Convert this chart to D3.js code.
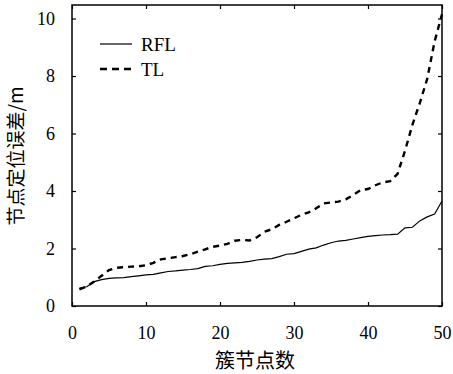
<!DOCTYPE html>
<html>
<head>
<meta charset="utf-8">
<script src="https://cdn.jsdelivr.net/npm/d3@7"></script>
<style>
  body { margin: 0; background: #fff; }
</style>
</head>
<body>
<svg width="453" height="374"></svg>
<script>
const nodes = d3.range(1, 51);
const rfl = [0.62, 0.67, 0.85, 0.92, 0.96, 0.98, 0.99, 1.02, 1.05, 1.08,
             1.1, 1.15, 1.2, 1.22, 1.25, 1.27, 1.3, 1.38, 1.4, 1.45,
             1.48, 1.5, 1.52, 1.55, 1.6, 1.63, 1.65, 1.72, 1.8, 1.82,
             1.9, 1.98, 2.02, 2.12, 2.2, 2.26, 2.28, 2.33, 2.38, 2.42,
             2.45, 2.47, 2.48, 2.5, 2.72, 2.74, 2.96, 3.1, 3.2, 3.65];
const tl = [0.58, 0.68, 0.85, 1.05, 1.25, 1.33, 1.35, 1.37, 1.38, 1.42,
            1.5, 1.62, 1.66, 1.7, 1.74, 1.8, 1.89, 1.97, 2.06, 2.1,
            2.16, 2.27, 2.3, 2.28, 2.39, 2.58, 2.67, 2.82, 2.93, 3.05,
            3.17, 3.26, 3.4, 3.57, 3.6, 3.63, 3.71, 3.86, 4.03, 4.07,
            4.2, 4.3, 4.34, 4.6, 5.4, 6.3, 7.06, 7.9, 9.2, 10.15];
const xTicks = [0, 10, 20, 30, 40, 50];
const yTicks = [0, 2, 4, 6, 8, 10];

const serif = "'Liberation Serif', 'Times New Roman', serif";
const cjk = "'Noto Sans CJK SC', sans-serif";

const margin = {top: 5, right: 11, bottom: 68, left: 72};
const width = 453 - margin.left - margin.right;
const height = 374 - margin.top - margin.bottom;

const svg = d3.select("svg");
const g = svg.append("g")
    .attr("transform", `translate(${margin.left}, ${margin.top})`);

const x = d3.scaleLinear().domain([0, 50]).range([0, width]);
const y = d3.scaleLinear().domain([0, 10.47]).range([height, 0]);

// axes, ticks pointing inward
const xAxisG = g.append("g")
  .attr("transform", `translate(0, ${height})`)
  .call(d3.axisBottom(x).tickValues(xTicks).tickSizeInner(-4).tickSizeOuter(0).tickPadding(20));
xAxisG.select(".domain").remove();
xAxisG.attr("font-family", serif).attr("font-size", 18);

const yAxisG = g.append("g")
  .call(d3.axisLeft(y).tickValues(yTicks).tickSizeInner(-4).tickSizeOuter(0).tickPadding(17));
yAxisG.select(".domain").remove();
yAxisG.attr("font-family", serif).attr("font-size", 18);

// mirror ticks
const topG = g.append("g")
  .call(d3.axisTop(x).tickValues(xTicks).tickSizeInner(-4).tickSizeOuter(0).tickFormat(""));
topG.select(".domain").remove();
const rightG = g.append("g")
  .attr("transform", `translate(${width}, 0)`)
  .call(d3.axisRight(y).tickValues(yTicks).tickSizeInner(-4).tickSizeOuter(0).tickFormat(""));
rightG.select(".domain").remove();

g.selectAll(".tick line").attr("stroke", "#000").attr("stroke-width", 1.2);
g.selectAll(".tick text").attr("fill", "#000");

g.append("rect")
  .attr("width", width).attr("height", height)
  .attr("fill", "none").attr("stroke", "#000").attr("stroke-width", 1.5);

const line = d3.line().x((d, i) => x(nodes[i])).y(d => y(d));

g.append("path").datum(rfl)
  .attr("d", line)
  .attr("fill", "none").attr("stroke", "#000").attr("stroke-width", 1.2);

g.append("path").datum(tl)
  .attr("d", line)
  .attr("fill", "none").attr("stroke", "#000").attr("stroke-width", 2.4)
  .attr("stroke-dasharray", "6,5");

// legend
const legend = g.append("g").attr("transform", "translate(28, 39)")
  .attr("font-family", serif).attr("font-size", 19);
legend.append("line").attr("x1", 0).attr("x2", 32).attr("y1", 0).attr("y2", 0)
  .attr("stroke", "#000").attr("stroke-width", 1.2);
legend.append("text").attr("x", 41).attr("y", 6.5).text("RFL");
legend.append("line").attr("x1", 0).attr("x2", 32).attr("y1", 25).attr("y2", 25)
  .attr("stroke", "#000").attr("stroke-width", 2.4).attr("stroke-dasharray", "7,5");
legend.append("text").attr("x", 41).attr("y", 31.5).text("TL");

// titles
svg.append("text")
  .attr("x", margin.left + width / 2 - 2)
  .attr("y", 368)
  .attr("text-anchor", "middle")
  .attr("font-family", cjk).attr("font-size", 20)
  .text("簇节点数");

svg.append("text")
  .attr("transform", "translate(23, 156) rotate(-90)")
  .attr("text-anchor", "middle")
  .attr("font-family", cjk).attr("font-size", 19)
  .text("节点定位误差/m");
</script>
</body>
</html>
